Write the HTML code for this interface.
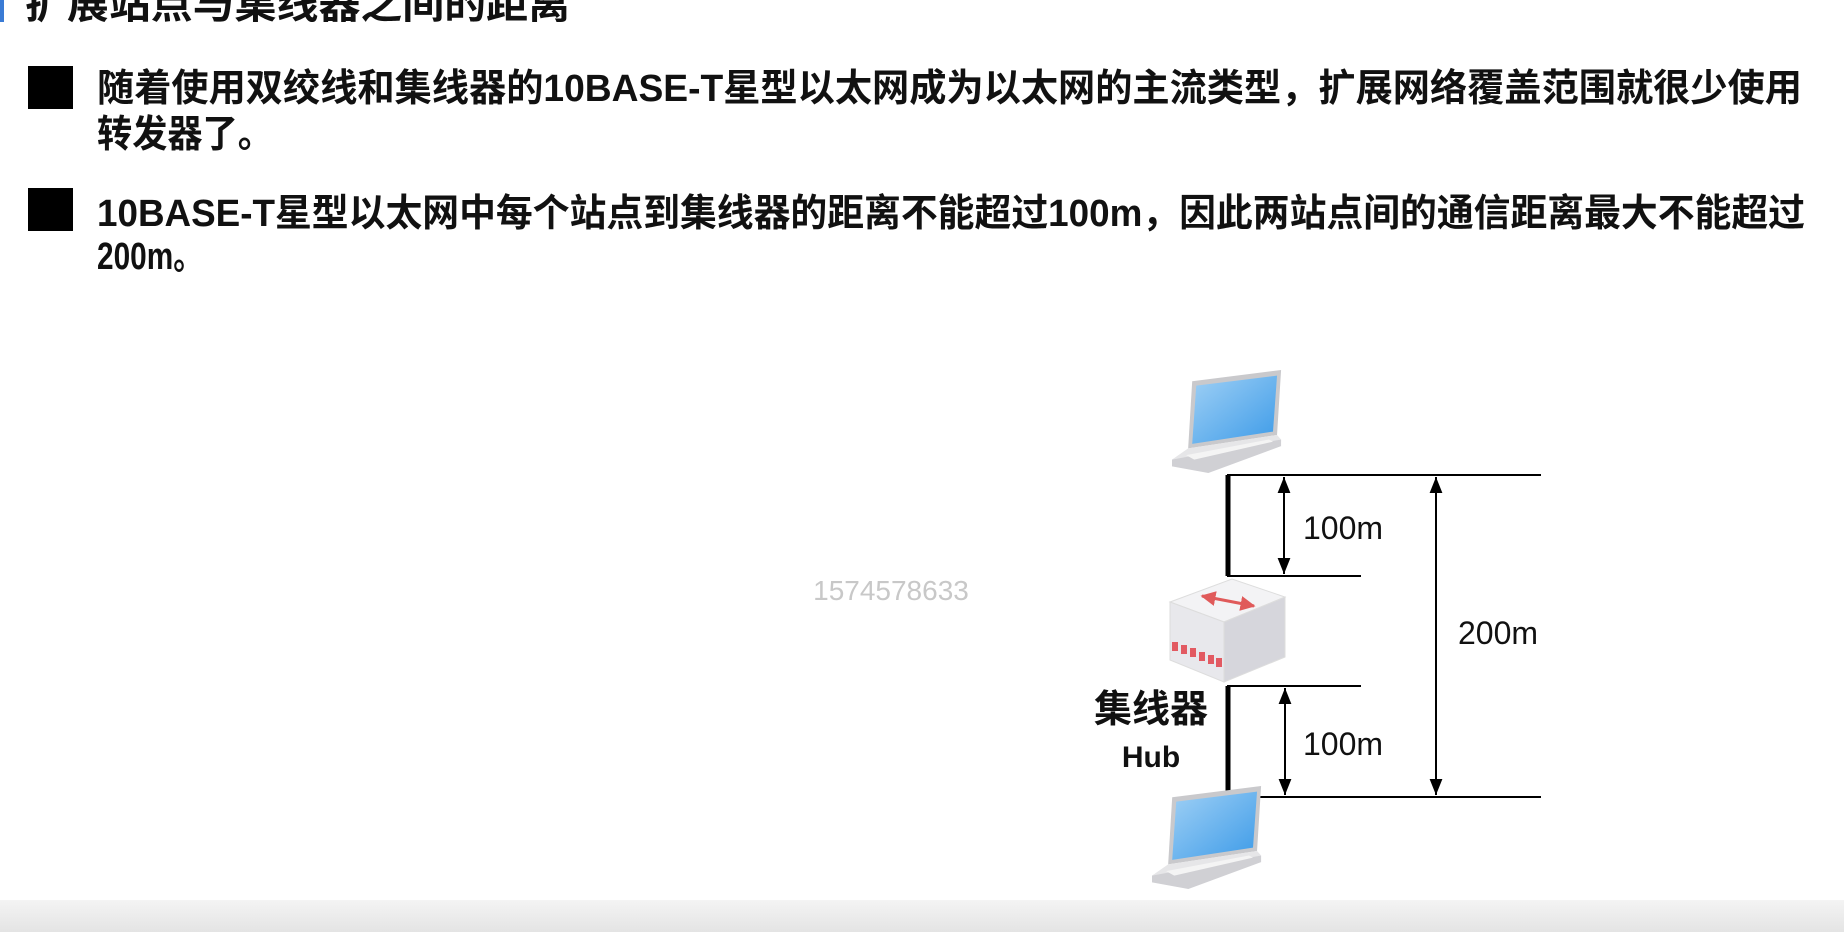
<!DOCTYPE html>
<html><head><meta charset="utf-8"><style>
html,body{margin:0;padding:0;background:#fff;}
svg{display:block;}
text{font-family:"Liberation Sans","Noto Sans CJK SC",sans-serif;}
</style></head><body>
<svg width="1844" height="932" viewBox="0 0 1844 932" xmlns="http://www.w3.org/2000/svg">
<defs>
<linearGradient id="bar" x1="0" y1="0" x2="0" y2="1"><stop offset="0" stop-color="#f4f4f4"/><stop offset="1" stop-color="#e4e4e4"/></linearGradient>
<linearGradient id="scr" x1="0" y1="0" x2="1" y2="1"><stop offset="0" stop-color="#9fd0f5"/><stop offset="1" stop-color="#3d9be8"/></linearGradient>
<marker id="ar" viewBox="0 0 10 10" refX="10" refY="5" markerWidth="8" markerHeight="8" orient="auto-start-reverse"><path d="M0,1 L10,5 L0,9 z" fill="#000"/></marker>
<marker id="rar" viewBox="0 0 10 10" refX="9" refY="5" markerWidth="5" markerHeight="5" orient="auto-start-reverse"><path d="M0,0 L10,5 L0,10 z" fill="#e05a5a"/></marker>
</defs>
<rect x="0" y="0" width="1844" height="932" fill="#fff"/>
<rect x="0" y="0" width="4" height="22" fill="#3a7bd5"/>
<text x="25" y="18" font-size="40" font-weight="bold" fill="#111" textLength="545" lengthAdjust="spacingAndGlyphs">扩展站点与集线器之间的距离</text>
<rect x="28" y="66" width="45" height="43" fill="#000"/>
<rect x="28" y="188" width="45" height="43" fill="#000"/>
<g font-size="38" font-weight="bold" fill="#111">
<text x="97" y="101" textLength="1705" lengthAdjust="spacingAndGlyphs">随着使用双绞线和集线器的10BASE-T星型以太网成为以太网的主流类型，扩展网络覆盖范围就很少使用</text>
<text x="97" y="147" textLength="176" lengthAdjust="spacingAndGlyphs">转发器了。</text>
<text x="97" y="226" textLength="1708" lengthAdjust="spacingAndGlyphs">10BASE-T星型以太网中每个站点到集线器的距离不能超过100m，因此两站点间的通信距离最大不能超过</text>
<text x="97" y="269" textLength="106" lengthAdjust="spacingAndGlyphs">200m。</text>
</g>
<text x="891" y="600" font-size="28" fill="#c8c8c8" text-anchor="middle">1574578633</text>
<g stroke="#000" fill="none">
<line x1="1228" y1="475" x2="1228" y2="576" stroke-width="5"/>
<line x1="1228" y1="686" x2="1228" y2="797" stroke-width="5"/>
<line x1="1227" y1="475" x2="1541" y2="475" stroke-width="2"/>
<line x1="1227" y1="576" x2="1361" y2="576" stroke-width="2"/>
<line x1="1227" y1="686" x2="1361" y2="686" stroke-width="2"/>
<line x1="1227" y1="797" x2="1541" y2="797" stroke-width="2"/>
<line x1="1284" y1="477" x2="1284" y2="574" stroke-width="2" marker-start="url(#ar)" marker-end="url(#ar)"/>
<line x1="1285" y1="688" x2="1285" y2="795" stroke-width="2" marker-start="url(#ar)" marker-end="url(#ar)"/>
<line x1="1436" y1="477" x2="1436" y2="795" stroke-width="2" marker-start="url(#ar)" marker-end="url(#ar)"/>
</g>
<g font-size="32" fill="#111">
<text x="1303" y="539">100m</text>
<text x="1303" y="755">100m</text>
<text x="1458" y="644">200m</text>
</g>
<text x="1151" y="722" font-size="38" font-weight="bold" fill="#111" text-anchor="middle">集线器</text>
<text x="1151" y="767" font-size="30" font-weight="bold" fill="#111" text-anchor="middle">Hub</text>
<g>
<polygon points="1170,602 1232,579 1285,597 1224,622" fill="#f3f3f5" stroke="#ddd"/>
<polygon points="1170,602 1224,622 1224,682 1170,660" fill="#e8e8ec" stroke="#ddd"/>
<polygon points="1224,622 1285,597 1285,657 1224,682" fill="#d6d6dc" stroke="#ddd"/>
<line x1="1202" y1="596" x2="1254" y2="606" stroke="#e05a5a" stroke-width="3" marker-start="url(#rar)" marker-end="url(#rar)"/>
<g fill="#e25a62">
<rect x="1172" y="642" width="6" height="9"/><rect x="1181" y="645" width="6" height="9"/><rect x="1190" y="648" width="6" height="9"/><rect x="1199" y="652" width="6" height="9"/><rect x="1208" y="655" width="6" height="9"/><rect x="1216" y="658" width="6" height="9"/>
</g>
</g>
<g transform="translate(1172,370) scale(1.01,1.12)">
<polygon points="20,10 108,0 104,58 16,70" fill="#c9c9cc"/>
<polygon points="24,14 104,5 100,55 20,66" fill="url(#scr)"/>
<polygon points="16,70 104,58 108,62 0,84 0,80" fill="#e6e6e8"/>
<polygon points="0,80 108,62 108,68 36,92 0,86" fill="#d0d0d4"/>
<polygon points="14,76 96,62 100,64 22,80" fill="#f4f4f4"/>
</g>
<g transform="translate(1152,786) scale(1.01,1.12)">
<polygon points="20,10 108,0 104,58 16,70" fill="#c9c9cc"/>
<polygon points="24,14 104,5 100,55 20,66" fill="url(#scr)"/>
<polygon points="16,70 104,58 108,62 0,84 0,80" fill="#e6e6e8"/>
<polygon points="0,80 108,62 108,68 36,92 0,86" fill="#d0d0d4"/>
<polygon points="14,76 96,62 100,64 22,80" fill="#f4f4f4"/>
</g>
<rect x="0" y="900" width="1844" height="32" fill="url(#bar)"/>
</svg>
</body></html>
